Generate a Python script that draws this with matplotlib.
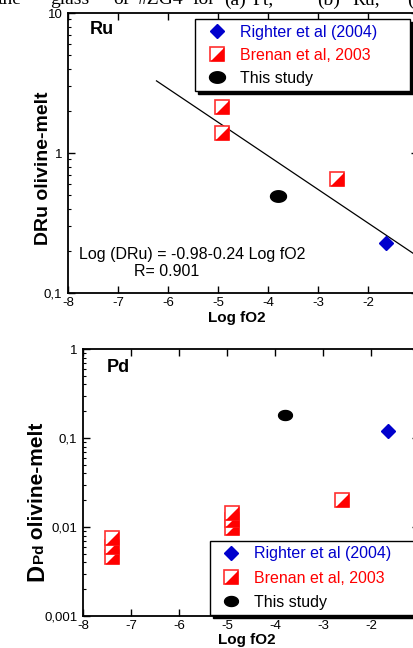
import numpy as np
import matplotlib
matplotlib.use("Agg")
import matplotlib.pyplot as plt
from matplotlib.ticker import NullFormatter

plt.rcParams['font.family'] = ['Liberation Sans', 'DejaVu Sans']

# Ru panel (log fO2, D olivine-melt)
ru_righter_x = [-1.64]
ru_righter_y = [0.226]
ru_brenan_x = [-4.91, -4.91, -2.61]
ru_brenan_y = [2.14, 1.38, 0.652]
ru_study_x = [-3.79]
ru_study_y = [0.495]
ru_fit_x = [-6.23, -1.0]
ru_fit_a = -0.98
ru_fit_b = -0.24

# Pd panel
pd_righter_x = [-1.65]
pd_righter_y = [0.12]
pd_brenan_x = [-7.39, -7.39, -7.39, -4.89, -4.89, -4.89, -2.61]
pd_brenan_y = [0.0046, 0.0059, 0.0076, 0.0098, 0.0120, 0.0143, 0.020]
pd_study_x = [-3.79]
pd_study_y = [0.181]

x_ticks = [-8, -7, -6, -5, -4, -3, -2, -1]
ru_yticks = [0.1, 1, 10]
ru_ylabels = ['0,1', '1', '10']
pd_yticks = [0.001, 0.01, 0.1, 1]
pd_ylabels = ['0,001', '0,01', '0,1', '1']

labels = ['Righter et al (2004)', 'Brenan et al, 2003', 'This study']
label_colors = ['mediumblue', 'red', 'black']

# caption line of the page, cut off at the top
caption_words = ['the', 'glass', 'of', '#ZG4', 'for', '(a)', 'Pt,', '(b)', 'Ru,', '(']

W, H = 414, 648
half_sq = [(-1, -1), (1, -1), (1, 1)]
t = np.linspace(0, 2 * np.pi, 40)
oval = list(zip(np.cos(t), 0.72 * np.sin(t)))


def fx(px):
    return px / W


def fy(py):
    return 1 - py / H


def draw_panel(ax, rx, ry, bx, by, sx, sy, ms_sq, ms_o):
    h1, = ax.plot(rx, ry, ls='none', marker='D', ms=7, mfc='mediumblue',
                  mec='mediumblue', zorder=3)
    for xi, yi in zip(bx, by):
        sq, = ax.plot([xi], [yi], ls='none', marker='s', ms=ms_sq, mfc='white',
                      mec='#ff3030', mew=1.2, zorder=3)
        tri, = ax.plot([xi], [yi], ls='none', marker=half_sq, ms=ms_sq,
                       mfc='red', mec='none', zorder=3)
    h3, = ax.plot(sx, sy, ls='none', marker=oval, ms=ms_o, mfc='black',
                  mec='black', zorder=3)
    return [h1, (sq, tri), h3]


def style_axes(ax, yticks, ylabels, ylim):
    ax.set_yscale('log')
    ax.set_xlim(-8, -1)
    ax.set_ylim(*ylim)
    ax.set_xticks(x_ticks, [str(v) for v in x_ticks])
    ax.set_yticks(yticks, ylabels)
    ax.yaxis.set_minor_formatter(NullFormatter())
    ax.tick_params(which='both', direction='in', top=True, right=True,
                   labelsize=9.5, colors='black')
    ax.tick_params(which='major', length=5, width=1)
    ax.tick_params(which='minor', length=2.5, width=0.8)
    ax.tick_params(axis='x', pad=3)
    ax.tick_params(axis='y', pad=4)
    for s in ax.spines.values():
        s.set_linewidth(1.3)


def add_legend(fig, handles, x0, x1, ybot, ytop, pad, spacing):
    leg = fig.legend(handles, labels, loc='upper left', mode='expand',
                     bbox_to_anchor=(fx(x0), fy(ybot), (x1 - x0) / W, (ybot - ytop) / H),
                     bbox_transform=fig.transFigure, borderaxespad=0,
                     fontsize=11.5, labelcolor=label_colors, fancybox=False,
                     framealpha=1, edgecolor='black', borderpad=pad,
                     labelspacing=spacing, handlelength=2.0, handletextpad=0.45,
                     shadow={'color': 'black', 'alpha': 1})
    leg.get_frame().set_linewidth(1.0)
    return leg


fig = plt.figure(figsize=(W / 100, H / 100), dpi=100)

for word, px in zip(caption_words, [-2, 50, 113, 138, 192, 224, 252, 317, 352, 407]):
    fig.text(fx(px), fy(4.5), word, family='Liberation Serif', fontsize=14,
             va='baseline', ha='left')

# ---- Ru ----
ax1 = fig.add_axes([fx(68), fy(293), (418 - 68) / W, 280 / H])
h = draw_panel(ax1, ru_righter_x, ru_righter_y, ru_brenan_x, ru_brenan_y,
               ru_study_x, ru_study_y, 10.5, 11.5)
fit_x = np.array(ru_fit_x)
ax1.plot(fit_x, 10 ** (ru_fit_a + ru_fit_b * fit_x), color='black', lw=0.9)
style_axes(ax1, ru_yticks, ru_ylabels, (0.1, 10))
ax1.set_xlabel('Log fO2', fontsize=11, fontweight='bold')
ax1.xaxis.set_label_coords((237 - 68) / 350, -(311 - 293) / 280)
ax1.text((79 - 68) / 350, (293 - 255) / 280, 'Log (DRu) = -0.98-0.24 Log fO2',
         transform=ax1.transAxes, fontsize=11.5, va='center', ha='left')
ax1.text((134 - 68) / 350, (293 - 272) / 280, 'R= 0.901',
         transform=ax1.transAxes, fontsize=11.5, va='center', ha='left')
fig.text(fx(90), fy(30), 'Ru', fontsize=13, fontweight='bold', va='center')
add_legend(fig, h, 195, 410, 89, 19, 0.36, 0.5)

fig.text(fx(48), fy(245), 'DRu olivine-melt', fontsize=14, fontweight='bold',
         rotation=90, rotation_mode='anchor', ha='left', va='baseline')

# ---- Pd ----
ax2 = fig.add_axes([fx(83), fy(616), (419 - 83) / W, 267 / H])
h = draw_panel(ax2, pd_righter_x, pd_righter_y, pd_brenan_x, pd_brenan_y,
               pd_study_x, pd_study_y, 10, 10)
style_axes(ax2, pd_yticks, pd_ylabels, (0.001, 1))
ax2.set_xlabel('Log fO2', fontsize=11, fontweight='bold')
ax2.xaxis.set_label_coords((247 - 83) / 336, -(633 - 616) / 267)
fig.text(fx(107), fy(368), 'Pd', fontsize=13, fontweight='bold', va='center')
add_legend(fig, h, 210, 432, 614, 541, 0.33, 0.58)

fig.text(fx(43), fy(581), 'D', fontsize=17, fontweight='bold', rotation=90,
         rotation_mode='anchor', ha='left', va='baseline')
fig.text(fx(43), fy(563), 'Pd', fontsize=11, fontweight='bold', rotation=90,
         rotation_mode='anchor', ha='left', va='baseline')
fig.text(fx(43), fy(545), ' olivine-melt', fontsize=15, fontweight='bold',
         rotation=90, rotation_mode='anchor', ha='left', va='baseline')

fig.savefig('out.png', dpi=100)
